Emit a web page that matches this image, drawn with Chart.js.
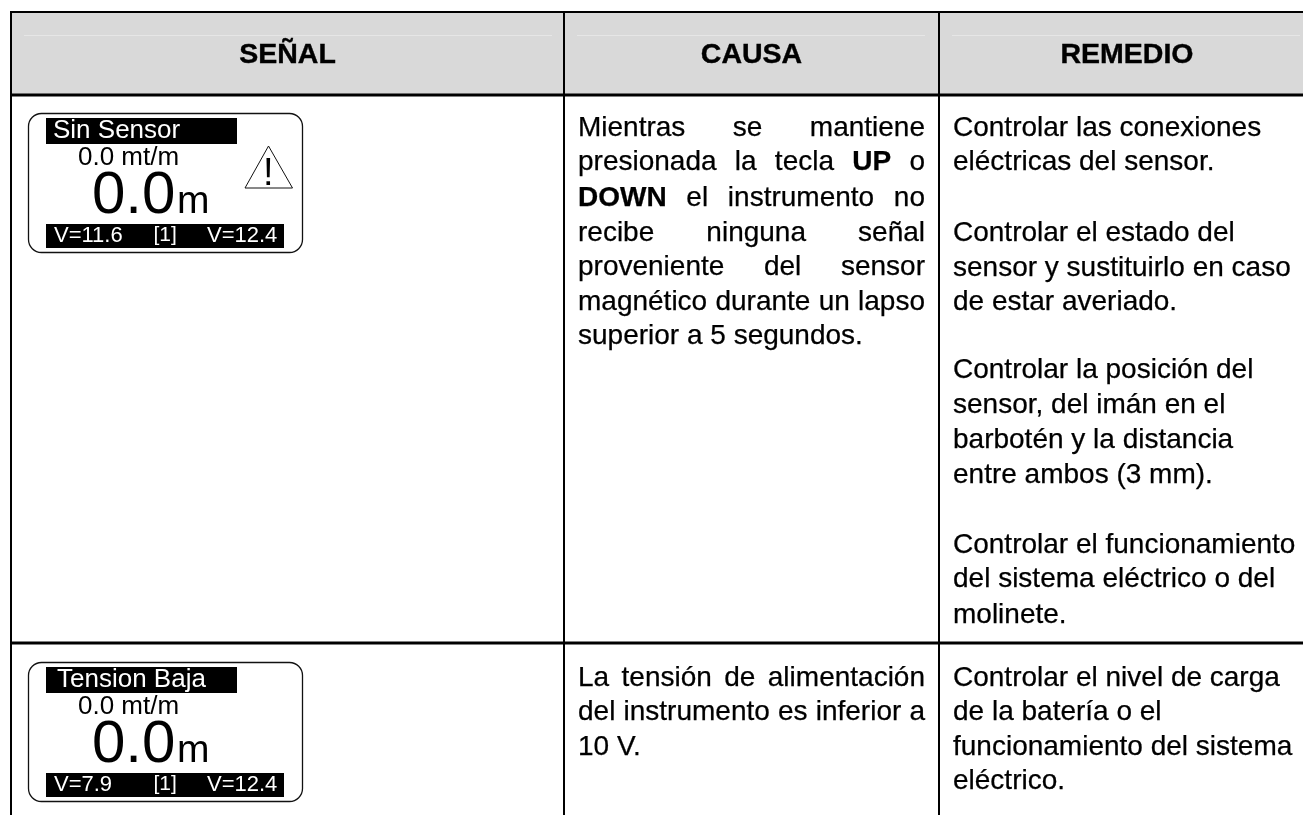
<!DOCTYPE html>
<html>
<head>
<meta charset="utf-8">
<script src="https://cdn.jsdelivr.net/npm/chart.js@4"></script>
<style>
  body { margin: 0; background: #fff; }
  canvas { display: block; }
</style>
</head>
<body>
<canvas id="tableChart" width="1303" height="815"></canvas>
<script>
const headers = ['SEÑAL', 'CAUSA', 'REMEDIO'];
const boldWords = ['UP', 'DOWN'];

// body text, one entry per printed line: [text, baseline, justified]
const causaLines = [
  ['Mientras se mantiene', 136, true],
  ['presionada la tecla UP o', 170, true],
  ['DOWN el instrumento no', 205.5, true],
  ['recibe ninguna señal', 240.5, true],
  ['proveniente del sensor', 275, true],
  ['magnético durante un lapso', 310, true],
  ['superior a 5 segundos.', 344, false],
  ['La tensión de alimentación', 686, true],
  ['del instrumento es inferior a', 720, true],
  ['10 V.', 755, false]
];
const remedioLines = [
  ['Controlar las conexiones', 136],
  ['eléctricas del sensor.', 170],
  ['Controlar el estado del', 241],
  ['sensor y sustituirlo en caso', 276],
  ['de estar averiado.', 310],
  ['Controlar la posición del', 378],
  ['sensor, del imán en el', 413],
  ['barbotén y la distancia', 448],
  ['entre ambos (3 mm).', 483],
  ['Controlar el funcionamiento', 553],
  ['del sistema eléctrico o del', 587],
  ['molinete.', 623],
  ['Controlar el nivel de carga', 686],
  ['de la batería o el', 720],
  ['funcionamiento del sistema', 755],
  ['eléctrico.', 789]
];

const lcdTitles = ['Sin Sensor', 'Tension Baja'];
const lcdTitleX = [53, 57];
const lcdRates = ['0.0 mt/m', '0.0 mt/m'];
const lcdCounts = ['0.0', '0.0'];
const lcdLeftVolts = ['V=11.6', 'V=7.9'];
const lcdChannels = ['[1]', '[1]'];
const lcdRightVolts = ['V=12.4', 'V=12.4'];
const lcdTops = [113, 662];

const colEdges = [11, 564, 939, 1303];
const rowEdges = [12, 95, 643, 815];
const textCols = [578, 925, 953];

const FONT = '"Liberation Sans", Arial, sans-serif';

const rule = (x1, y1, x2, y2, width) => ({
  data: [{ x: x1, y: y1 }, { x: x2, y: y2 }],
  showLine: true,
  pointRadius: 0,
  borderColor: '#000',
  borderWidth: width,
  clip: false
});

const rules = [
  rule(colEdges[0] - 1, rowEdges[0], colEdges[3], rowEdges[0], 2),
  rule(colEdges[0], rowEdges[1], colEdges[3], rowEdges[1], 3),
  rule(colEdges[0], rowEdges[2], colEdges[3], rowEdges[2], 3),
  rule(colEdges[0], rowEdges[0], colEdges[0], rowEdges[3], 2),
  rule(colEdges[1], rowEdges[0], colEdges[1], rowEdges[3], 2),
  rule(colEdges[2], rowEdges[0], colEdges[2], rowEdges[3], 2)
];

const put = (ctx, text, x, y, font, color) => {
  ctx.font = font;
  ctx.fillStyle = color;
  ctx.fillText(text, x, y);
};

const bodySize = 28;
const drawLine = (ctx, text, x, y, right) => {
  const regular = `${bodySize}px ${FONT}`;
  const bold = `bold ${bodySize}px ${FONT}`;
  const words = text.split(' ');
  const fontFor = (w) => (boldWords.includes(w) ? bold : regular);
  const widths = words.map((w) => {
    ctx.font = fontFor(w);
    return ctx.measureText(w).width;
  });
  ctx.font = regular;
  const used = widths.reduce((a, b) => a + b, 0);
  const gap = right ? (right - x - used) / (words.length - 1) : ctx.measureText(' ').width;
  let cursor = x;
  ctx.fillStyle = '#000';
  ctx.strokeStyle = '#000';
  ctx.lineWidth = 0.25;
  words.forEach((w, i) => {
    ctx.font = fontFor(w);
    ctx.fillText(w, cursor, y);
    ctx.strokeText(w, cursor, y);
    cursor += widths[i] + gap;
  });
};

const drawLcd = (ctx, i) => {
  const t = lcdTops[i];
  ctx.strokeStyle = '#111';
  ctx.lineWidth = 1.3;
  ctx.beginPath();
  ctx.roundRect(28.5, t + 0.5, 274, 139, 13);
  ctx.stroke();

  ctx.fillStyle = '#000';
  ctx.fillRect(46, t + 5, 191, 26);
  ctx.fillRect(46, t + 111, 238, 24);

  put(ctx, lcdTitles[i], lcdTitleX[i], t + 25, `26px ${FONT}`, '#fff');
  put(ctx, lcdRates[i], 78, t + 52, `26px ${FONT}`, '#000');
  put(ctx, lcdCounts[i], 92, t + 100, `60px ${FONT}`, '#000');
  put(ctx, 'm', 177, t + 100, `39px ${FONT}`, '#000');
  put(ctx, lcdLeftVolts[i], 54, t + 129, `22px ${FONT}`, '#fff');
  put(ctx, lcdChannels[i], 153.5, t + 127.5, `21px ${FONT}`, '#fff');
  put(ctx, lcdRightVolts[i], 207, t + 129, `22px ${FONT}`, '#fff');

  if (i === 0) {
    ctx.strokeStyle = '#111';
    ctx.lineWidth = 1;
    ctx.beginPath();
    ctx.moveTo(268.5, t + 33);
    ctx.lineTo(292.5, t + 75);
    ctx.lineTo(245, t + 75);
    ctx.closePath();
    ctx.stroke();
    put(ctx, '!', 263, t + 71.5, `38px ${FONT}`, '#000');
  }
};

const tablePlugin = {
  id: 'tablePlugin',
  beforeDatasetsDraw(chart) {
    const { ctx, scales: { x, y } } = chart;
    ctx.save();
    ctx.fillStyle = '#fff';
    ctx.fillRect(0, 0, chart.width, chart.height);
    ctx.fillStyle = '#d9d9d9';
    ctx.fillRect(x.getPixelForValue(colEdges[0]), y.getPixelForValue(rowEdges[0]),
      x.getPixelForValue(colEdges[3]) - x.getPixelForValue(colEdges[0]),
      y.getPixelForValue(rowEdges[1]) - y.getPixelForValue(rowEdges[0]));
    // faint line left across the header cells
    ctx.fillStyle = '#e6e6e6';
    [[24, 552], [577, 925], [952, 1300]].forEach(([a, b]) => ctx.fillRect(a, 35, b - a, 1));
    ctx.restore();
  },
  afterDatasetsDraw(chart) {
    const { ctx, scales: { x } } = chart;
    ctx.save();
    ctx.textBaseline = 'alphabetic';
    ctx.textAlign = 'center';
    ctx.fillStyle = '#000';
    ctx.strokeStyle = '#000';
    ctx.lineWidth = 0.4;
    ctx.font = `bold 28.5px ${FONT}`;
    headers.forEach((h, i) => {
      const centre = (x.getPixelForValue(colEdges[i]) + x.getPixelForValue(colEdges[i + 1])) / 2;
      const cx = i === 2 ? 1127 : centre;
      ctx.fillText(h, cx, 63);
      ctx.strokeText(h, cx, 63);
    });
    ctx.textAlign = 'left';
    causaLines.forEach(([text, y, just]) => drawLine(ctx, text, textCols[0], y, just ? textCols[1] : null));
    remedioLines.forEach(([text, y]) => drawLine(ctx, text, textCols[2], y, null));
    lcdTops.forEach((_, i) => drawLcd(ctx, i));
    ctx.restore();
  }
};

new Chart(document.getElementById('tableChart'), {
  type: 'scatter',
  data: { datasets: rules },
  options: {
    responsive: false,
    animation: false,
    layout: { padding: 0 },
    plugins: { legend: { display: false }, tooltip: { enabled: false } },
    scales: {
      x: { type: 'linear', display: false, min: 0, max: 1303 },
      y: { type: 'linear', display: false, min: 0, max: 815, reverse: true }
    }
  },
  plugins: [tablePlugin]
});
</script>
</body>
</html>
